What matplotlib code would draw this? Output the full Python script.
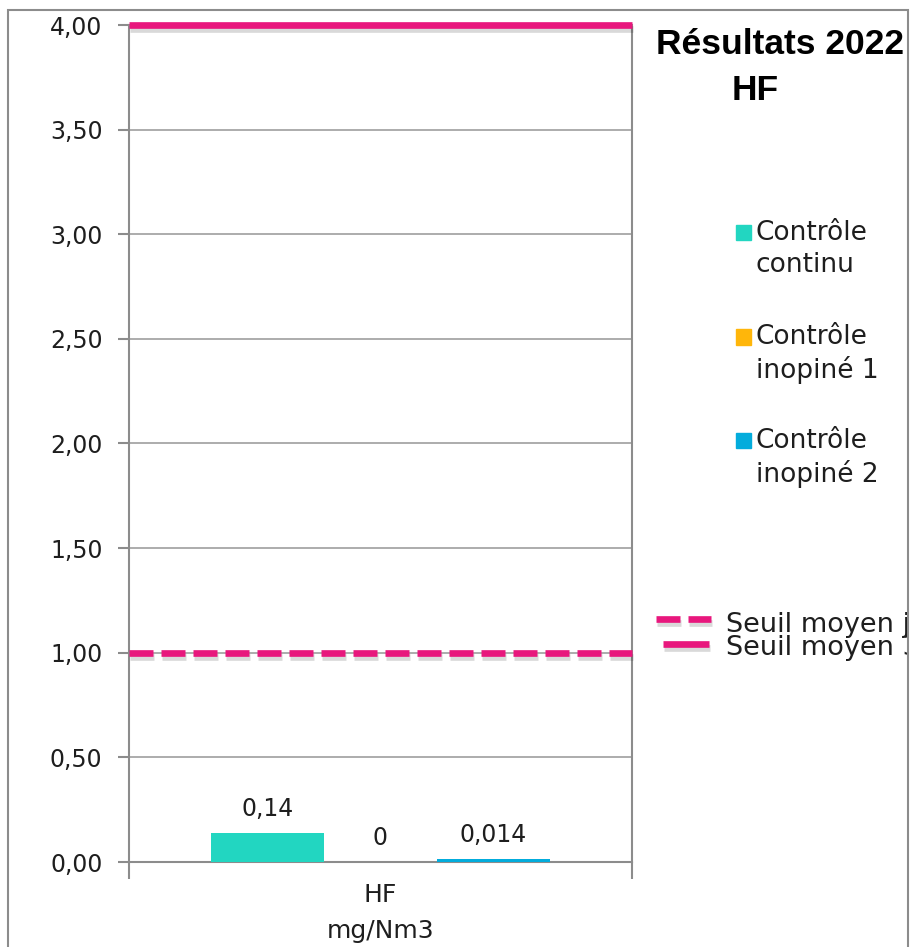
import matplotlib
matplotlib.use("Agg")
import matplotlib.pyplot as plt
import matplotlib.patheffects as pe
from matplotlib.patches import Rectangle
from matplotlib.lines import Line2D
from matplotlib.ticker import MultipleLocator, FuncFormatter
from matplotlib.transforms import Bbox, TransformedBbox

# data
categories = ["HF\nmg/Nm3"]
series_names = ["Contrôle\ncontinu", "Contrôle\ninopiné 1", "Contrôle\ninopiné 2"]
series_values = [0.14, 0, 0.014]
value_labels = ["0,14", "0", "0,014"]
series_colors = ["#22D6C1", "#FFB60A", "#03ACDC"]
threshold_names = ["Seuil moyen journalier", "Seuil moyen 30 min"]
threshold_values = [1.0, 4.0]
threshold_styles = [(0, (3.6, 1.2)), "-"]

PINK = "#E8177D"
GREY = "#8C8C8C"
TXT = "#1E1E1E"
W, H = 912, 947

plt.rcParams["font.family"] = ["DejaVu Sans"]

fig = plt.figure(figsize=(W / 100, H / 100), dpi=100)


def fx(px):
    return px / W


def fy(py):
    return 1 - py / H


# outer chart frame
fig.patches.append(Rectangle((fx(8), -0.1), fx(900), fy(10) + 0.1,
                             transform=fig.transFigure, fill=False,
                             edgecolor=GREY, linewidth=1.5))

ax = fig.add_axes([fx(129), fy(862), fx(632 - 129), (862 - 25) / H])
ax.set_xlim(-0.5, 0.5)
ax.set_ylim(0, 4)

# bars
bar_w = 0.2247
n = len(series_values)
for i, (name, val, lab, col) in enumerate(zip(series_names, series_values,
                                               value_labels, series_colors)):
    x = (i - (n - 1) / 2) * bar_w
    ax.bar(x, val, width=bar_w, color=col, zorder=3)
    ax.annotate(lab, (x, val), xytext=(0, 8.5), textcoords="offset points",
                ha="center", va="bottom", fontsize=17, color=TXT)

# threshold lines
shadow = [pe.SimpleLineShadow(offset=(1, -3), alpha=0.15, shadow_color="black"),
          pe.Normal()]
for val, ls in zip(threshold_values, threshold_styles):
    ax.plot([-0.5, 0.5], [val, val], color=PINK, linewidth=4.8, linestyle=ls,
            solid_capstyle="butt", dash_capstyle="butt", clip_on=False,
            zorder=4, path_effects=shadow)

# axes styling
ax.yaxis.set_major_locator(MultipleLocator(0.5))
ax.yaxis.set_major_formatter(FuncFormatter(lambda v, p: f"{v:.2f}".replace(".", ",")))
ax.tick_params(axis="y", length=8, width=1.5, color=GREY, pad=11,
               labelsize=17, labelcolor=TXT)
ax.grid(axis="y", color="#A6A6A6", linewidth=1.3, zorder=0)
ax.set_axisbelow(True)

ax.set_xticks([-0.5, 0.5], labels=["", ""])
ax.tick_params(axis="x", which="major", length=12, width=1.5, color=GREY)
ax.set_xticks([0], labels=categories, minor=True)
ax.tick_params(axis="x", which="minor", length=0, pad=15, labelsize=18,
               labelcolor=TXT)
for t in ax.get_xticklabels(minor=True):
    t.set_linespacing(1.62)

for s in ["left", "right", "bottom"]:
    ax.spines[s].set_color(GREY)
    ax.spines[s].set_linewidth(1.5)
ax.spines["top"].set_visible(False)

# title
fig.text(fx(780), fy(45), "Résultats 2022", family="Liberation Sans",
         weight="bold", fontsize=25.5, ha="center", va="center")
fig.text(fx(755), fy(90), "HF", family="Liberation Sans",
         weight="bold", fontsize=25.5, ha="center", va="center")

# legend for the bars
for i, (name, col) in enumerate(zip(series_names, series_colors)):
    y0 = 233 + i * 104
    fig.patches.append(Rectangle((fx(736), fy(y0 + 7.5)), fx(15), 15 / H,
                                 transform=fig.transFigure, color=col))
    for j, line in enumerate(name.split("\n")):
        fig.text(fx(756), fy(y0 + j * 32.5), line, fontsize=19,
                 ha="left", va="center", color=TXT)

# legend for the threshold lines, clipped by the chart frame
clip = TransformedBbox(Bbox.from_extents(fx(8), 0, fx(907), 1), fig.transFigure)
for i, (name, ls) in enumerate(zip(threshold_names, threshold_styles)):
    yl = 619 + i * 25
    xs = [fx(656), fx(711)] if i == 0 else [fx(663), fx(709)]
    fig.lines.append(Line2D(xs, [fy(yl), fy(yl)], transform=fig.transFigure,
                            color=PINK, linewidth=4.8, linestyle=ls,
                            solid_capstyle="butt", dash_capstyle="butt",
                            path_effects=shadow))
    t = fig.text(fx(726), fy(625 + i * 23), name, fontsize=19.5, ha="left",
                 va="center", color=TXT)
    t.set_clip_box(clip)
    t.set_clip_on(True)

fig.savefig("out.png", dpi=100)
